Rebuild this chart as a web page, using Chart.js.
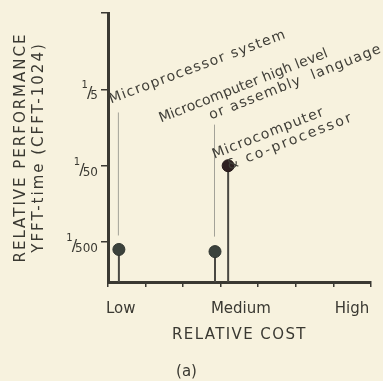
<!DOCTYPE html>
<html>
<head>
<meta charset="utf-8">
<script src="https://cdn.jsdelivr.net/npm/chart.js@4"></script>
<style>
  html, body { margin: 0; padding: 0; background: #f7f2de; }
  #wrap { width: 383px; height: 381px; position: relative; }
</style>
</head>
<body>
<div id="wrap"><canvas id="chart"></canvas></div>
<script>
// System types, their relative cost and relative performance (YFFT time vs CFFT-1024)
const systemLabels = [
  ['Microprocessor system'],
  ['Microcomputer high level', 'or assembly  language'],
  ['Microcomputer', '& co-processor']
];
const relativeCost = [0.29, 2.85, 3.2];
const relativePerformance = [0.0016, 0.0015, 0.02];

// Axis ticks
const costTickLabels = ['Low', 'Medium', 'High'];
const costTickAt = [0.34, 3.54, 6.5];
const costMarks = [0, 1, 2, 3, 4, 5, 6, 7];
const perfTicks = [0.002, 0.02, 0.2];
const perfDenominators = ['500', '50', '5'];

// Axis titles
const costTitle = 'RELATIVE COST';
const perfTitle = ['RELATIVE PERFORMANCE', 'YFFT-time (CFFT-1024)'];

const INK = '#3a3932';
const FONT = 'DejaVu Sans';
const Y_MIN = 0.0006, Y_MAX = 2;

const labelFor = new Map(costTickAt.map((v, i) => [v, costTickLabels[i]]));

// Stems from each point down to the cost axis
const stemSets = relativeCost.map((x, i) => ({
  type: 'line',
  data: [{ x, y: relativePerformance[i] }, { x, y: Y_MIN }],
  borderColor: '#4a4943',
  borderWidth: 2,
  pointRadius: 0,
  order: 2
}));

// Annotation layout: text line offsets / letter spacing / angle, leader line extents, relative to each point
const noteLayout = [
  { lines: [[-8, -146, 1.3, -20.5]], leader: [-137, -14] },
  { lines: [[-54, -129, 0.1, -21.5], [-4, -132, 1.2, -21.5]], leader: [-127, -15] },
  { lines: [[-14, -7, 1.1, -21.5], [1, 4, 2.1, -21.5]] }
];

const annotations = {
  id: 'annotations',
  afterDatasetsDraw(chart) {
    const { ctx, scales: { x, y } } = chart;
    ctx.save();
    relativeCost.forEach((cx, i) => {
      const px = x.getPixelForValue(cx);
      const py = y.getPixelForValue(relativePerformance[i]);
      const lay = noteLayout[i];
      if (lay.leader) {
        ctx.strokeStyle = '#a3a298';
        ctx.lineWidth = 1;
        ctx.beginPath();
        ctx.moveTo(px - 0.5, py + lay.leader[0]);
        ctx.lineTo(px - 0.5, py + lay.leader[1]);
        ctx.stroke();
      }
      ctx.fillStyle = '#403f38';
      ctx.font = '14px "' + FONT + '"';
      ctx.textBaseline = 'alphabetic';
      ctx.textAlign = 'left';
      systemLabels[i].forEach((line, j) => {
        const [dx, dy, ls, ang] = lay.lines[j];
        ctx.save();
        ctx.letterSpacing = ls + 'px';
        ctx.translate(px + dx, py + dy);
        ctx.rotate(ang * Math.PI / 180);
        ctx.fillText(line, 0, 0);
        ctx.restore();
      });
    });
    ctx.restore();
  }
};

// Axis titles (letter-spaced) and the fractional performance tick labels
const axisText = {
  id: 'axisText',
  afterDraw(chart) {
    const { ctx, chartArea: a, scales: { y } } = chart;
    ctx.save();
    ctx.fillStyle = INK;
    ctx.textAlign = 'center';
    ctx.textBaseline = 'middle';
    ctx.font = '15px "' + FONT + '"';
    ctx.letterSpacing = '2px';
    const cy = (a.top + a.bottom) / 2;
    perfTitle.forEach((t, k) => {
      ctx.save();
      ctx.translate(a.left - 87 + k * 18, cy);
      ctx.rotate(-Math.PI / 2);
      ctx.fillText(t, 0, 0);
      ctx.restore();
    });
    ctx.letterSpacing = '1.4px';
    ctx.fillText(costTitle, (a.left + a.right) / 2, a.bottom + 53);

    // ¹⁄N labels: small raised 1, slash, denominator below the tick
    ctx.letterSpacing = '0px';
    ctx.textBaseline = 'alphabetic';
    ctx.textAlign = 'right';
    const right = a.left - 10;
    perfTicks.forEach((v, i) => {
      const ty = y.getPixelForValue(v);
      ctx.font = '12px "' + FONT + '"';
      const w = ctx.measureText(perfDenominators[i]).width;
      ctx.fillText(perfDenominators[i], right, ty + 10);
      ctx.font = '16px "' + FONT + '"';
      ctx.fillText('/', right - w + 2, ty + 9);
      ctx.font = '10px "' + FONT + '"';
      ctx.fillText('1', right - w - 2.5, ty - 1);
    });
    ctx.restore();
  }
};

new Chart(document.getElementById('chart'), {
  type: 'scatter',
  data: {
    datasets: [
      {
        data: relativeCost.map((x, i) => ({ x, y: relativePerformance[i] })),
        pointRadius: 6,
        pointHoverRadius: 6,
        pointBackgroundColor: ['#3b423c', '#3b423c', '#2e2020'],
        pointBorderColor: ['#2f342f', '#2f342f', '#241818'],
        pointBorderWidth: 1,
        order: 0
      },
      ...stemSets
    ]
  },
  options: {
    responsive: true,
    maintainAspectRatio: false,
    animation: false,
    layout: { padding: { left: 0, right: 10, top: 13, bottom: 0 } },
    plugins: {
      legend: { display: false },
      tooltip: { enabled: false },
      title: {
        display: true,
        position: 'bottom',
        text: '(a)',
        color: INK,
        font: { family: FONT, size: 15, weight: 'normal', lineHeight: 1.2 },
        padding: { top: 0, bottom: 0 }
      }
    },
    scales: {
      x: {
        type: 'linear',
        min: 0,
        max: 7,
        afterBuildTicks(scale) {
          scale.ticks = [...costMarks, ...costTickAt].map(value => ({ value }));
        },
        afterFit(scale) { scale.height = 81; },
        ticks: {
          autoSkip: false,
          maxRotation: 0,
          padding: 13,
          color: INK,
          font: { family: FONT, size: 15 },
          callback: v => labelFor.get(v) || ''
        },
        grid: {
          drawOnChartArea: false,
          drawTicks: true,
          tickLength: 5,
          lineWidth: 1.5,
          color: ctx => (ctx.tick && labelFor.has(ctx.tick.value)) ? 'rgba(0,0,0,0)' : INK
        },
        border: { display: true, width: 3, color: INK }
      },
      y: {
        type: 'logarithmic',
        min: Y_MIN,
        max: Y_MAX,
        afterBuildTicks(scale) {
          scale.ticks = [...perfTicks, Y_MAX].map(value => ({ value }));
        },
        afterFit(scale) { scale.width = 108; },
        ticks: {
          autoSkip: false,
          callback: () => ''
        },
        grid: {
          drawOnChartArea: false,
          drawTicks: true,
          tickLength: 7,
          lineWidth: 1.5,
          color: INK
        },
        border: { display: true, width: 3, color: INK }
      }
    }
  },
  plugins: [annotations, axisText]
});
</script>
</body>
</html>
